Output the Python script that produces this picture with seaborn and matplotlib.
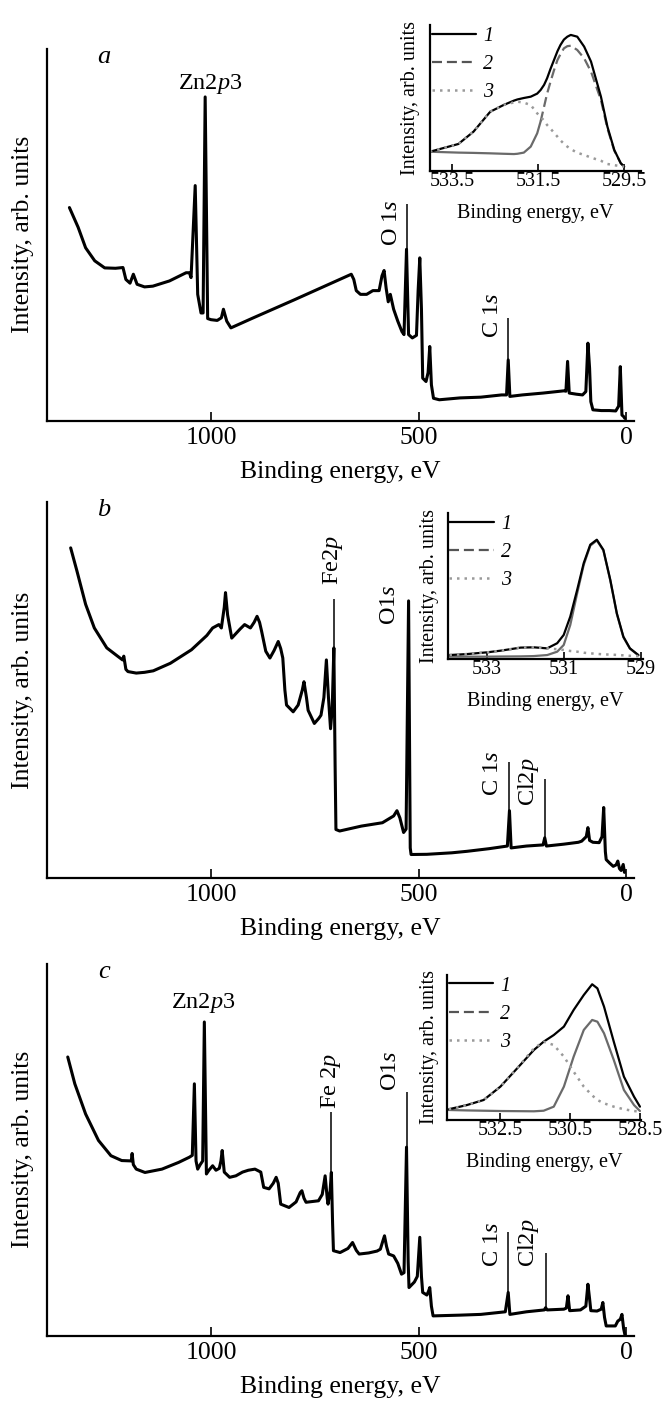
import matplotlib
matplotlib.use('Agg')
import matplotlib.pyplot as plt
import seaborn as sns
from matplotlib.lines import Line2D

sns.set_style('ticks')
plt.rcParams['font.family'] = ['Liberation Serif', 'DejaVu Serif']
plt.rcParams['mathtext.fontset'] = 'custom'
plt.rcParams['mathtext.rm'] = 'Liberation Serif'
plt.rcParams['mathtext.it'] = 'Liberation Serif:italic'
plt.rcParams['text.color'] = 'k'
plt.rcParams['axes.labelcolor'] = 'k'
plt.rcParams['xtick.color'] = 'k'
plt.rcParams['ytick.color'] = 'k'

# -------------------------------------------
# Survey spectra (binding energy, eV / normalised intensity)
# -------------------------------------------
a_ev = [1341, 1320, 1302, 1280, 1256, 1230, 1212, 1205, 1195, 1187, 1178, 1160, 1140, 1100,
        1060, 1052, 1048, 1038, 1032, 1024, 1019, 1014, 1008, 1000, 985, 975, 970, 962, 952,
        900, 800, 700, 662, 656, 650, 640, 625, 610, 595, 588, 583, 578, 573, 568, 560, 550,
        540, 535, 529, 524, 515, 505, 501, 497, 493, 490, 482, 477, 473, 469, 464, 450, 400,
        350, 300, 288, 284, 280, 250, 200, 150, 145, 141, 137, 120, 105, 97, 92, 88, 85, 80,
        60, 40, 25, 18, 14, 10, 6, 3]
a_int = [0.573, 0.52, 0.465, 0.43, 0.411, 0.41, 0.412, 0.38, 0.37, 0.394, 0.367, 0.36, 0.362, 0.376,
         0.398, 0.398, 0.385, 0.632, 0.34, 0.29, 0.29, 0.87, 0.275, 0.272, 0.27, 0.277, 0.30, 0.268, 0.25,
         0.276, 0.325, 0.375, 0.394, 0.38, 0.35, 0.34, 0.34, 0.35, 0.35, 0.39, 0.404, 0.356, 0.32, 0.34, 0.30, 0.268,
         0.24, 0.232, 0.461, 0.232, 0.223, 0.23, 0.35, 0.438, 0.30, 0.115, 0.106, 0.13, 0.2, 0.097, 0.061, 0.057, 0.062,
         0.064, 0.07, 0.07, 0.164, 0.066, 0.07, 0.075, 0.081, 0.08, 0.16, 0.075, 0.072, 0.07, 0.079, 0.209, 0.142, 0.052, 0.03,
         0.028, 0.028, 0.027, 0.04, 0.146, 0.016, 0.012, 0.007]

b_ev = [1338, 1323, 1302, 1281, 1251, 1225, 1213, 1210, 1205, 1200, 1180, 1160, 1139, 1098, 1047,
        1010, 996, 981, 975, 968, 965, 960, 950, 940, 930, 919, 905, 896, 889, 883, 878, 868, 858,
        848, 838, 832, 827, 822, 818, 802, 790, 780, 776, 770, 766, 751, 740, 735, 728, 722, 717,
        712, 708, 704, 701, 699, 690, 638, 587, 560, 552, 545, 536, 530, 524, 520, 518, 480, 420,
        383, 330, 286, 281, 277, 240, 200, 196, 192, 150, 115, 107, 96, 92, 88, 80, 65, 58, 54, 50,
        48, 40, 31, 24, 20, 16, 12, 7, 4]
b_int = [0.878, 0.817, 0.728, 0.665, 0.612, 0.59, 0.58, 0.59, 0.555, 0.549, 0.545, 0.547, 0.551, 0.571, 0.607,
         0.645, 0.665, 0.674, 0.665, 0.72, 0.759, 0.70, 0.638, 0.65, 0.662, 0.674, 0.665, 0.68, 0.696, 0.68, 0.656, 0.603, 0.585,
         0.605, 0.629, 0.61, 0.585, 0.50, 0.46, 0.442, 0.46, 0.50, 0.522, 0.48, 0.446, 0.411, 0.425, 0.433, 0.48, 0.58, 0.48,
         0.397, 0.45, 0.612, 0.30, 0.129, 0.125, 0.138, 0.147, 0.165, 0.179, 0.16, 0.121, 0.13, 0.737, 0.08, 0.0625, 0.063, 0.067,
         0.071, 0.078, 0.085, 0.179, 0.08, 0.085, 0.088, 0.107, 0.085, 0.09, 0.095, 0.098, 0.11, 0.134, 0.10, 0.095, 0.094, 0.11, 0.1875, 0.07,
         0.049, 0.04, 0.031, 0.035, 0.045, 0.025, 0.02, 0.036, 0.015]

c_ev = [1345, 1328, 1302, 1271, 1241, 1215, 1192, 1190, 1187, 1180, 1159, 1118, 1078, 1052, 1045,
        1040, 1036, 1032, 1026, 1020, 1016, 1011, 1005, 996, 988, 980, 976, 973, 968, 955, 940, 924,
        910, 894, 880, 873, 860, 850, 843, 838, 832, 812, 795, 785, 781, 776, 771, 741, 732, 725, 720,
        718, 713, 710, 707, 705, 689, 670, 659, 650, 643, 620, 600, 592, 586, 582, 577, 572, 560, 550,
        541, 535, 529, 525, 523, 510, 503, 497, 493, 490, 480, 476, 473, 469, 465, 400, 350, 291, 284,
        280, 240, 197, 194, 190, 150, 144, 140, 136, 110, 97, 92, 88, 85, 70, 60, 56, 52, 48, 26, 20,
        14, 10, 6, 3]
c_int = [0.749, 0.677, 0.596, 0.525, 0.484, 0.471, 0.47, 0.49, 0.46, 0.448, 0.439, 0.448, 0.466, 0.48, 0.485,
         0.677, 0.47, 0.448, 0.46, 0.47, 0.843, 0.435, 0.445, 0.457, 0.445, 0.45, 0.47, 0.498, 0.44, 0.426, 0.43, 0.44,
         0.445, 0.448, 0.44, 0.399, 0.395, 0.41, 0.426, 0.41, 0.354, 0.345, 0.36, 0.385, 0.39, 0.37, 0.359, 0.363, 0.38, 0.43, 0.37,
         0.354, 0.39, 0.439, 0.30, 0.229, 0.224, 0.235, 0.251, 0.23, 0.22, 0.223, 0.228, 0.233, 0.255, 0.269, 0.24, 0.22, 0.215, 0.195,
         0.166, 0.17, 0.507, 0.20, 0.13, 0.145, 0.16, 0.265, 0.16, 0.117, 0.11, 0.12, 0.13, 0.08, 0.054, 0.056, 0.058, 0.065, 0.117,
         0.058, 0.065, 0.07, 0.076, 0.07, 0.072, 0.075, 0.108, 0.068, 0.07, 0.08, 0.139, 0.10, 0.068, 0.067, 0.072, 0.09, 0.05, 0.027, 0.027, 0.04,
         0.045, 0.058, 0.02, 0.004]

# -------------------------------------------
# O 1s insets: total (1), component 2, component 3
# -------------------------------------------
ia_ev = [534.01, 533.35, 533.0, 532.61, 532.3, 532.06, 531.98, 531.83, 531.67, 531.52, 531.44, 531.36,
         531.29, 531.21, 531.13, 531.05, 530.98, 530.90, 530.82, 530.74, 530.59, 530.43, 530.27, 530.04,
         529.89, 529.73, 529.58, 529.50]
ia_tot = [0.132, 0.185, 0.269, 0.406, 0.452, 0.482, 0.49, 0.50, 0.509, 0.53, 0.555, 0.59,
          0.635, 0.70, 0.76, 0.82, 0.863, 0.90, 0.92, 0.932, 0.92, 0.852, 0.749, 0.509,
          0.304, 0.144, 0.053, 0.03]
ia_c2 = [0.132, 0.126, 0.124, 0.121, 0.118, 0.116, 0.118, 0.126, 0.167, 0.258, 0.34, 0.441,
         0.53, 0.612, 0.69, 0.76, 0.80, 0.84, 0.855, 0.858, 0.829, 0.772, 0.68, 0.486,
         0.292, 0.139, 0.053, 0.03]
ia_c3 = [0.132, 0.185, 0.269, 0.406, 0.452, 0.47, 0.475, 0.468, 0.452, 0.395, 0.37, 0.345,
         0.315, 0.29, 0.262, 0.235, 0.21, 0.187, 0.167, 0.15, 0.125, 0.11, 0.092, 0.07,
         0.048, 0.04, 0.033, 0.03]

ib_ev = [533.97, 533.5, 532.98, 532.64, 532.12, 531.78, 531.43, 531.17, 531.0, 530.83, 530.65,
         530.48, 530.31, 530.14, 529.97, 529.79, 529.62, 529.45, 529.28, 529.06]
ib_tot = [0.027, 0.034, 0.046, 0.057, 0.078, 0.08, 0.073, 0.108, 0.165, 0.29, 0.474,
          0.657, 0.783, 0.817, 0.748, 0.542, 0.313, 0.153, 0.073, 0.027]
ib_c2 = [0.016, 0.016, 0.016, 0.017, 0.018, 0.02, 0.027, 0.05, 0.096, 0.233, 0.451,
         0.645, 0.776, 0.812, 0.744, 0.538, 0.309, 0.149, 0.071, 0.025]
ib_c3 = [0.027, 0.034, 0.046, 0.057, 0.078, 0.08, 0.073, 0.067, 0.062, 0.055, 0.05,
         0.043, 0.039, 0.035, 0.032, 0.03, 0.028, 0.025, 0.022, 0.02]

ic_ev = [533.98, 533.46, 532.98, 532.5, 532.02, 531.54, 531.26, 530.97, 530.68, 530.40, 530.11,
         529.87, 529.72, 529.53, 529.25, 528.96, 528.67, 528.50]
ic_tot = [0.074, 0.103, 0.138, 0.23, 0.356, 0.483, 0.54, 0.586, 0.644, 0.759, 0.862,
          0.936, 0.908, 0.782, 0.54, 0.299, 0.161, 0.092]
ic_c2 = [0.069, 0.066, 0.064, 0.062, 0.061, 0.06, 0.064, 0.092, 0.23, 0.437, 0.621,
         0.69, 0.678, 0.598, 0.414, 0.207, 0.103, 0.062]
ic_c3 = [0.074, 0.103, 0.138, 0.23, 0.356, 0.494, 0.54, 0.517, 0.437, 0.333, 0.23,
         0.17, 0.138, 0.115, 0.092, 0.074, 0.062, 0.057]

# peak labels: text, x (eV), y, rotation
a_lbl = [r'Zn2$\mathit{p}$3', r'O 1$\mathit{s}$', r'C 1$\mathit{s}$']
a_lbl_x = [1001, 565, 322]
a_lbl_y = [0.905, 0.47, 0.223]
a_lbl_rot = [0, 90, 90]
a_mark_x = [529, 284]
a_mark_lo = [0.461, 0.164]
a_mark_hi = [0.582, 0.277]

b_lbl = [r'Fe2$\mathit{p}$', r'O1$\mathit{s}$', r'C 1$\mathit{s}$', r'Cl2$\mathit{p}$']
b_lbl_x = [707, 569, 322, 235]
b_lbl_y = [0.78, 0.674, 0.219, 0.192]
b_lbl_rot = [90, 90, 90, 90]
b_mark_x = [704, 524, 281, 196]
b_mark_lo = [0.612, 0.70, 0.179, 0.107]
b_mark_hi = [0.741, 0.737, 0.308, 0.263]

c_lbl = [r'Zn2$\mathit{p}$3', r'Fe 2$\mathit{p}$', r'O1$\mathit{s}$', r'C 1$\mathit{s}$', r'Cl2$\mathit{p}$']
c_lbl_x = [1018, 712, 567, 322, 235]
c_lbl_y = [0.893, 0.61, 0.659, 0.184, 0.184]
c_lbl_rot = [0, 90, 90, 90, 90]
c_mark_x = [710, 529, 284, 194]
c_mark_lo = [0.439, 0.507, 0.117, 0.076]
c_mark_hi = [0.601, 0.655, 0.278, 0.224]

main_ticks = [1000, 500, 0]
ins_ticks_a = [533.5, 531.5, 529.5]
ins_ticks_b = [533, 531, 529]
ins_ticks_c = [532.5, 530.5, 528.5]

W, H = 664, 1402


def frac(x0, y0, x1, y1):
    return [x0 / W, 1 - y1 / H, (x1 - x0) / W, (y1 - y0) / H]


def style_axes(ax, fs, pad, tlen):
    sns.despine(ax=ax)
    for s in ['left', 'bottom']:
        ax.spines[s].set_linewidth(1.6)
        ax.spines[s].set_color('k')
    ax.set_yticks([])
    ax.tick_params(axis='x', direction='in', length=tlen, width=1.2, pad=pad,
                   labelsize=fs, colors='k')
    ax.set_facecolor('none')


def draw_main(rect, ev, inten, letter, lbl, lx, ly, lrot, mx, mlo, mhi):
    ax = fig.add_axes(frac(*rect))
    sns.lineplot(x=ev, y=inten, ax=ax, color='k', lw=2.2, sort=False, estimator=None)
    ax.vlines(mx, mlo, mhi, color='k', lw=1.1)
    for t, x, y, r in zip(lbl, lx, ly, lrot):
        ax.text(x, y, t, fontsize=17.5, rotation=r, ha='center',
                va='center' if r == 0 else 'bottom')
    ax.set_xlim(1395, -19)
    ax.set_ylim(0, 1)
    ax.set_xticks(main_ticks)
    ax.set_xticklabels([str(t) for t in main_ticks])
    style_axes(ax, 18.5, 4.5, 6.5)
    ax.set_xlabel('Binding energy, eV', fontsize=18.5, va='center')
    ax.xaxis.set_label_coords(0.5, -0.136)
    ax.set_ylabel('Intensity, arb. units', fontsize=18.5, va='center')
    ax.yaxis.set_label_coords(-0.041, 0.5)
    ax.text(0.097, 0.978, letter, transform=ax.transAxes, fontsize=19,
            style='italic', ha='center', va='center')
    return ax


def draw_inset(rect, ev, tot, c2, c3, xlim, ticks, dash_from, ylab_x):
    ax = fig.add_axes(frac(*rect))
    grey = '#6a6a6a'
    if dash_from is None:
        sns.lineplot(x=ev, y=c2, ax=ax, color=grey, lw=1.6, sort=False, estimator=None)
    else:
        solid = [i for i, e in enumerate(ev) if e >= dash_from]
        dashed = [i for i, e in enumerate(ev) if e <= dash_from + 0.1]
        sns.lineplot(x=[ev[i] for i in solid], y=[c2[i] for i in solid], ax=ax,
                     color=grey, lw=1.6, sort=False, estimator=None)
        sns.lineplot(x=[ev[i] for i in dashed], y=[c2[i] for i in dashed], ax=ax,
                     color=grey, lw=1.6, sort=False, estimator=None,
                     linestyle=(0, (4.5, 2.2)))
    sns.lineplot(x=ev, y=tot, ax=ax, color='k', lw=1.6, sort=False, estimator=None)
    sns.lineplot(x=ev, y=c3, ax=ax, color='#9a9a9a', lw=1.8, sort=False, estimator=None,
                 linestyle=(0, (1.0, 2.0)))
    ax.set_xlim(*xlim)
    ax.set_ylim(0, 1)
    ax.set_xticks(ticks)
    ax.set_xticklabels([str(t) for t in ticks])
    style_axes(ax, 14.5, 1.0, 5)
    ax.set_xlabel('Binding energy, eV', fontsize=14.5, va='center')
    ax.xaxis.set_label_coords(0.5, -0.29)
    ax.set_ylabel('Intensity, arb. units', fontsize=14.5, va='center')
    ax.yaxis.set_label_coords(ylab_x, 0.5)
    handles = [Line2D([], [], color='k', lw=1.6),
               Line2D([], [], color='#555555', lw=1.6, linestyle=(0, (4.5, 2.2))),
               Line2D([], [], color='#9a9a9a', lw=1.8, linestyle=(0, (1.0, 2.0)))]
    ax.legend(handles, ['1', '2', '3'], loc='upper left', bbox_to_anchor=(0.01, 0.99),
              frameon=False, borderpad=0, borderaxespad=0, handlelength=2.2,
              handletextpad=0.35, labelspacing=0.45,
              prop={'family': 'Liberation Serif', 'style': 'italic', 'size': 14.5})
    return ax


fig = plt.figure(figsize=(W / 100, H / 100), dpi=100)

draw_main((47, 48.5, 634, 421), a_ev, a_int, 'a', a_lbl, a_lbl_x, a_lbl_y, a_lbl_rot,
          a_mark_x, a_mark_lo, a_mark_hi)
draw_main((47, 502, 634, 878), b_ev, b_int, 'b', b_lbl, b_lbl_x, b_lbl_y, b_lbl_rot,
          b_mark_x, b_mark_lo, b_mark_hi)
draw_main((47, 963.5, 634, 1336), c_ev, c_int, 'c', c_lbl, c_lbl_x, c_lbl_y, c_lbl_rot,
          c_mark_x, c_mark_lo, c_mark_hi)

draw_inset((429.5, 25, 641, 171), ia_ev, ia_tot, ia_c2, ia_c3, (534.02, 529.11),
           ins_ticks_a, 531.4, -0.092)
draw_inset((447.5, 513, 643, 659), ib_ev, ib_tot, ib_c2, ib_c3, (534.02, 528.94),
           ins_ticks_b, None, -0.092)
draw_inset((447, 975, 641, 1120), ic_ev, ic_tot, ic_c2, ic_c3, (534.03, 528.47),
           ins_ticks_c, None, -0.092)

plt.savefig('out.png', dpi=100)
